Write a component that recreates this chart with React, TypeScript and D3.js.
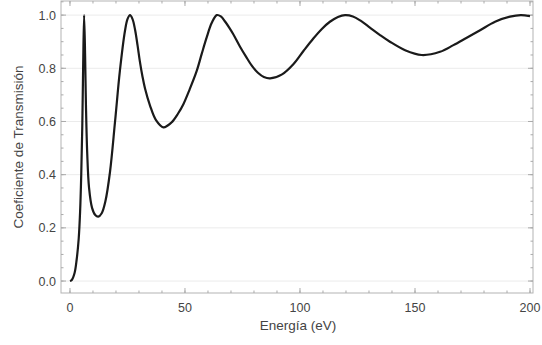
import React from "react";
import * as d3 from "d3";

const energy = [0, 0.8, 2.0, 2.9, 3.8, 4.4, 4.9, 5.35, 5.75, 6.15, 6.6, 6.95, 7.5, 8.3, 9.6, 11.0, 12.3, 13.8, 15.4, 17.4, 19.6, 21.7, 23.9, 25.0, 26.1, 27.2, 28.3, 29.4, 30.4, 31.5, 32.6, 34.8, 37.4, 40.6, 44.0, 47.0, 49.3, 52.0, 55.1, 57.3, 59.4, 61.6, 63.8, 65.6, 67.5, 69.3, 71.0, 74.0, 76.8, 79.2, 81.7, 84.3, 87.0, 92.2, 97.1, 101.5, 105.8, 109.5, 113, 116.5, 119.6, 123, 126.5, 130.4, 134.8, 139.1, 145.7, 152.9, 160.9, 166.7, 172.5, 178.3, 184.8, 191.3, 196, 200];
const transmission = [0, 0.004, 0.03, 0.08, 0.16, 0.26, 0.4, 0.58, 0.82, 1.0, 0.84, 0.66, 0.48, 0.35, 0.275, 0.248, 0.242, 0.255, 0.3, 0.41, 0.6, 0.79, 0.94, 0.985, 1.0, 0.985, 0.945, 0.885, 0.825, 0.77, 0.725, 0.66, 0.605, 0.578, 0.595, 0.63, 0.665, 0.72, 0.79, 0.855, 0.915, 0.97, 1.0, 0.995, 0.975, 0.952, 0.928, 0.88, 0.84, 0.808, 0.783, 0.767, 0.762, 0.777, 0.815, 0.865, 0.912, 0.948, 0.975, 0.993, 1.0, 0.995, 0.978, 0.953, 0.925, 0.9, 0.868, 0.85, 0.862, 0.887, 0.915, 0.943, 0.975, 0.994, 1.0, 0.996];

const xTicks = [0, 50, 100, 150, 200];
const yTicks = [0, 0.2, 0.4, 0.6, 0.8, 1.0];
const xMinor = d3.range(0, 201, 10);
const yMinor = d3.range(0, 1.051, 0.05);

const W = 542, H = 345;
const L = 61, R = 533, T = 1, B = 293;

export default function App() {
  const x = d3.scaleLinear().domain([-3.9, 201.3]).range([L, R]);
  const y = d3.scaleLinear().domain([-0.045, 1.053]).range([B, T]);
  const pts = energy.map((e, i) => [e, transmission[i]] as [number, number]);
  const line = d3.line<[number, number]>().x(d => x(d[0])).y(d => y(d[1])).curve(d3.curveCatmullRom.alpha(0.5));
  const tickColor = "#aaa";
  const labelColor = "#444";
  const font = "'Liberation Sans', Arial, sans-serif";
  return (
    <svg width={W} height={H} style={{ position: "absolute", left: 0, top: 0, background: "#fff" }}>
      {yTicks.map(t => (
        <line key={"g" + t} x1={L} x2={R} y1={y(t)} y2={y(t)} stroke="#ebebeb" strokeWidth={1} />
      ))}
      <rect x={L} y={T} width={R - L} height={B - T} fill="none" stroke="#b3b3b3" strokeWidth={1} />
      {xMinor.map(t => (
        <g key={"xm" + t}>
          <line x1={x(t)} x2={x(t)} y1={B} y2={B - 2.5} stroke={tickColor} />
          <line x1={x(t)} x2={x(t)} y1={T} y2={T + 2.5} stroke={tickColor} />
        </g>
      ))}
      {xTicks.map(t => (
        <g key={"x" + t}>
          <line x1={x(t)} x2={x(t)} y1={B} y2={B - 5} stroke={tickColor} />
          <line x1={x(t)} x2={x(t)} y1={T} y2={T + 5} stroke={tickColor} />
          <text x={x(t)} y={312} textAnchor="middle" fontSize={12.5} fill={labelColor} fontFamily={font}>{t}</text>
        </g>
      ))}
      {yMinor.map(t => (
        <g key={"ym" + t}>
          <line x1={L} x2={L + 2.5} y1={y(t)} y2={y(t)} stroke={tickColor} />
          <line x1={R} x2={R - 2.5} y1={y(t)} y2={y(t)} stroke={tickColor} />
        </g>
      ))}
      {yTicks.map(t => (
        <g key={"y" + t}>
          <line x1={L} x2={L + 5} y1={y(t)} y2={y(t)} stroke={tickColor} />
          <line x1={R} x2={R - 5} y1={y(t)} y2={y(t)} stroke={tickColor} />
          <text x={56} y={y(t) + 4.5} textAnchor="end" fontSize={12.5} fill={labelColor} fontFamily={font}>{t.toFixed(1)}</text>
        </g>
      ))}
      <path d={line(pts) || ""} fill="none" stroke="#1a1a1a" strokeWidth={2.2} strokeLinejoin="round" />
      <text x={298} y={330} textAnchor="middle" fontSize={13.5} fill={labelColor} fontFamily={font}>Energía (eV)</text>
      <text transform={`translate(23,147) rotate(-90)`} textAnchor="middle" fontSize={13.5} fill={labelColor} fontFamily={font}>Coeficiente de Transmisión</text>
    </svg>
  );
}
